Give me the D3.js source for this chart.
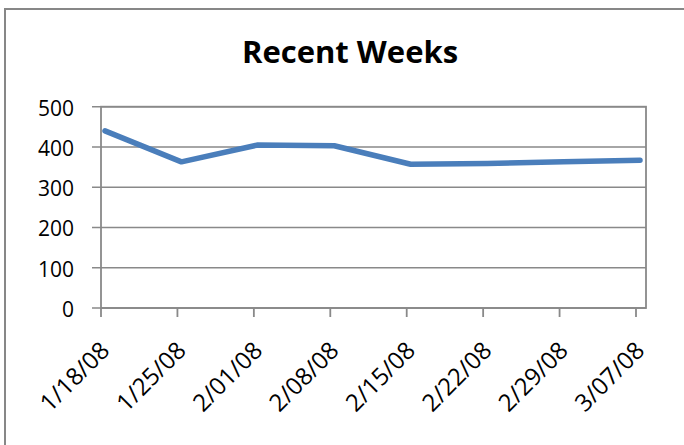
<!DOCTYPE html>
<html>
<head>
<meta charset="utf-8">
<script src="https://cdnjs.cloudflare.com/ajax/libs/d3/7.8.5/d3.min.js"></script>
<style>
    body { margin: 0; background: #fff; }
    text { font-family: "Open Sans", "Noto Sans", sans-serif; fill: #000; }
</style>
</head>
<body>
<svg id="chart" width="684" height="445"></svg>
<script>
let weeks = ["1/18/08", "1/25/08", "2/01/08", "2/08/08", "2/15/08", "2/22/08", "2/29/08", "3/07/08"]
let counts = [440, 363, 405, 403, 357, 359, 363, 367]
let yTicks = [0, 100, 200, 300, 400, 500]
let title = "Recent Weeks"

let svg = d3.select("#chart")

// outer chart border (right and bottom are cut off in the picture)
svg.append("path")
    .attr("d", "M5,700 V9 H700")
    .attr("fill", "none")
    .attr("stroke", "#878787")
    .attr("stroke-width", 2)

let plotLeft = 101, plotRight = 646, plotTop = 106.7, plotBottom = 308

let xScale = d3.scalePoint().domain(weeks).range([plotLeft, 636])
let yScale = d3.scaleLinear().domain([0, 500]).range([plotBottom, plotTop])

svg.append("text")
    .attr("x", 350)
    .attr("y", 63)
    .attr("text-anchor", "middle")
    .style("font-size", "31px")
    .style("font-weight", "bold")
    .text(title)

// gridlines + left ticks
svg.append("g")
    .selectAll("line")
    .data(yTicks)
    .join("line")
    .attr("x1", plotLeft - 9)
    .attr("x2", plotRight)
    .attr("y1", d => yScale(d))
    .attr("y2", d => yScale(d))
    .attr("stroke", "#898989")
    .attr("stroke-width", 1.6)

svg.append("g")
    .selectAll("text")
    .data(yTicks)
    .join("text")
    .attr("x", 74)
    .attr("y", d => yScale(d) + 1.5)
    .attr("dy", "0.35em")
    .attr("text-anchor", "end")
    .style("font-size", "21px")
    .text(d => d)

// plot area frame
svg.append("rect")
    .attr("x", plotLeft)
    .attr("y", plotTop)
    .attr("width", plotRight - plotLeft)
    .attr("height", plotBottom - plotTop)
    .attr("fill", "none")
    .attr("stroke", "#898989")
    .attr("stroke-width", 1.8)

// bottom ticks
svg.append("g")
    .selectAll("line")
    .data(weeks)
    .join("line")
    .attr("x1", d => xScale(d))
    .attr("x2", d => xScale(d))
    .attr("y1", plotBottom)
    .attr("y2", plotBottom + 9)
    .attr("stroke", "#898989")
    .attr("stroke-width", 1.8)

svg.append("g")
    .selectAll("text")
    .data(weeks)
    .join("text")
    .attr("text-anchor", "end")
    .attr("transform", d => `translate(${xScale(d) + 10}, 352) rotate(-45)`)
    .style("font-size", "24px")
    .text(d => d)

let line = d3.line()
    .x((d, i) => xScale(weeks[i]))
    .y(d => yScale(d))

svg.append("path")
    .datum(counts)
    .attr("transform", "translate(4,0)")
    .attr("d", line)
    .attr("fill", "none")
    .attr("stroke", "#4a7ebb")
    .attr("stroke-width", 5.5)
    .attr("stroke-linecap", "round")
    .attr("stroke-linejoin", "round")
</script>
</body>
</html>
